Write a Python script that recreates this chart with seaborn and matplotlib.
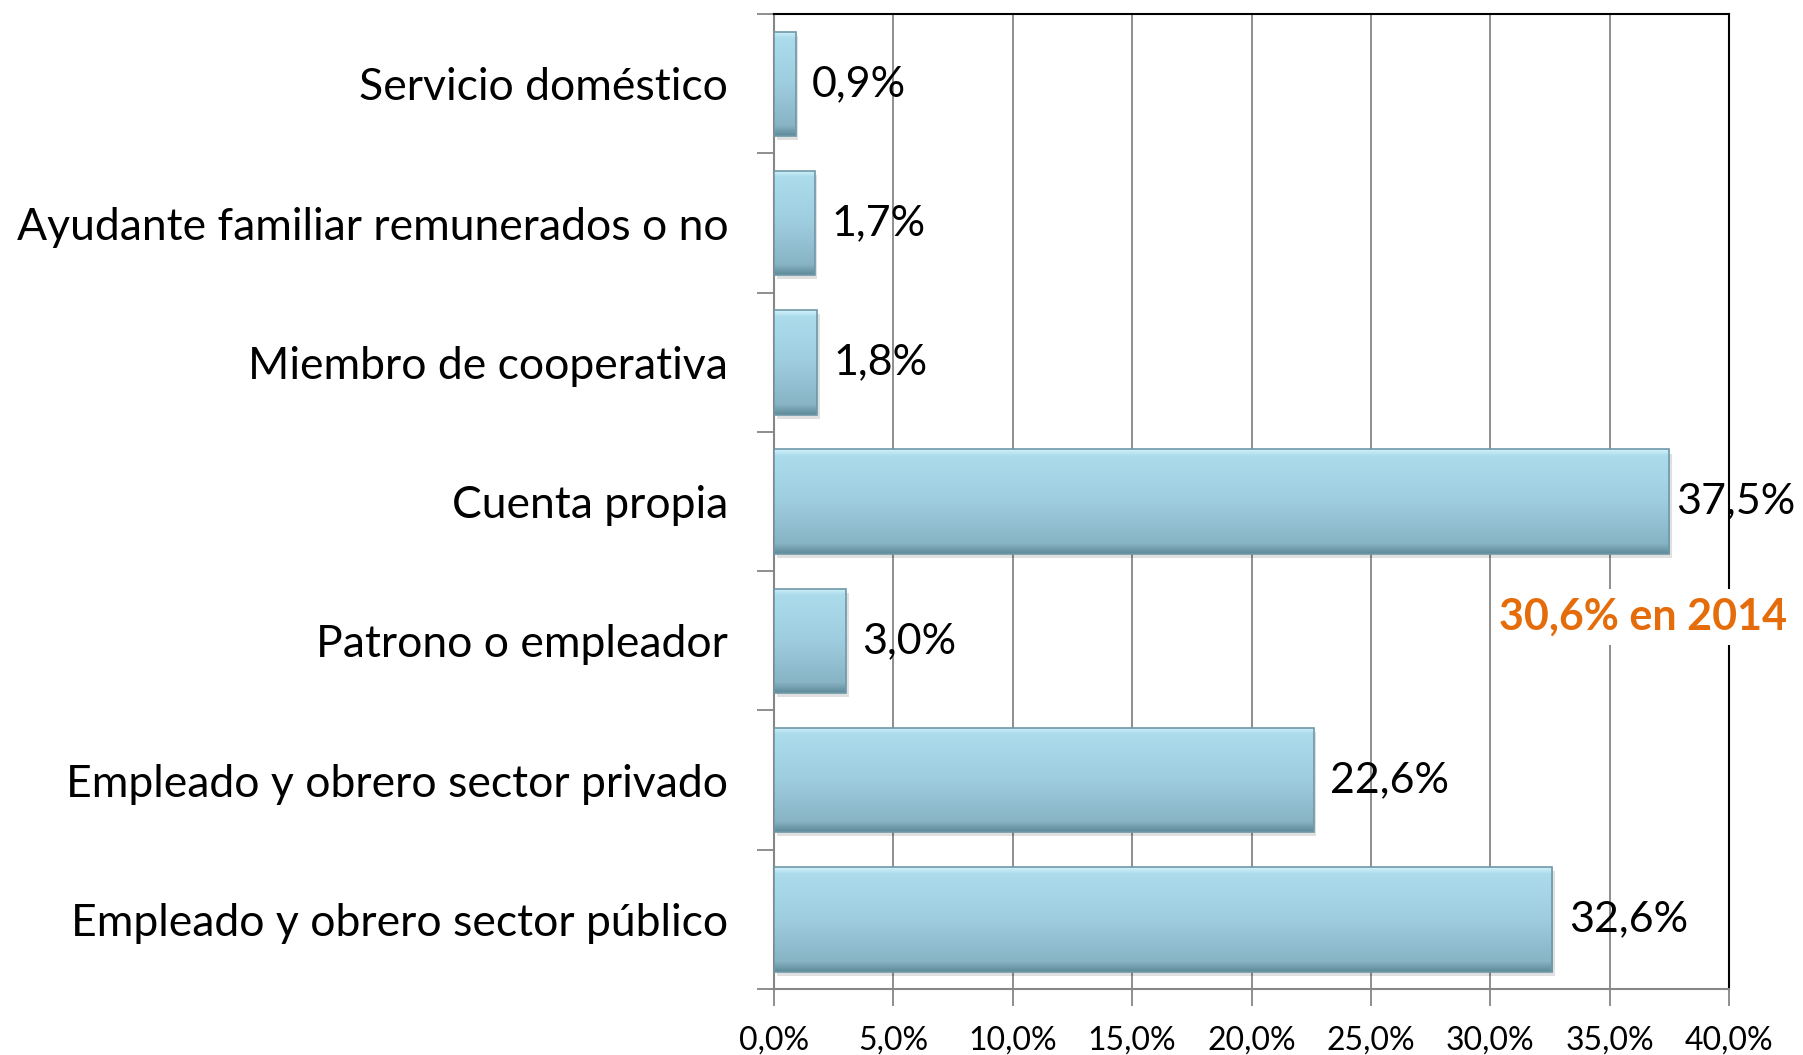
import numpy as np
import pandas as pd
import matplotlib.pyplot as plt
import seaborn as sns
from matplotlib.colors import LinearSegmentedColormap

categories = ["Servicio doméstico", "Ayudante familiar remunerados o no", "Miembro de cooperativa",
              "Cuenta propia", "Patrono o empleador", "Empleado y obrero sector privado",
              "Empleado y obrero sector público"]
values = [0.9, 1.7, 1.8, 37.5, 3.0, 22.6, 32.6]
x_ticks = [0, 5, 10, 15, 20, 25, 30, 35, 40]
note = "30,6% en 2014"

df = pd.DataFrame({"cat": categories, "val": values})

sns.set_style("white")
plt.rcParams['font.family'] = ['Lato', 'DejaVu Sans']

fig = plt.figure(figsize=(18.03, 10.55), dpi=100)
ax = fig.add_axes([0.4293, 0.0626, 0.5297, 0.924])

sns.barplot(data=df, x="val", y="cat", color="#98C8DA", width=0.75, ax=ax, zorder=3)

# gradient fill on each bar, a bit like the bevel look
grad_cmap = LinearSegmentedColormap.from_list(
    "bev", [(0, "#d2f1fa"), (0.06, "#acdcec"), (0.5, "#9ecddf"), (0.9, "#88b4c5"), (1, "#5f8a99")])
grad = np.linspace(0, 1, 200).reshape(-1, 1)
for p in ax.patches:
    x0, y0, w, h = p.get_x(), p.get_y(), p.get_width(), p.get_height()
    # soft shadow under bar
    ax.add_patch(plt.Rectangle((x0 + 0.12, y0 + 0.03), w, h, color="#000000", alpha=0.12,
                               zorder=2, linewidth=0))
    im = ax.imshow(grad, cmap=grad_cmap, aspect="auto", extent=(x0, x0 + w, y0 + h, y0),
                   zorder=4, interpolation="bilinear")
    im.set_clip_path(p)
    p.set_edgecolor("#6f98a8")
    p.set_linewidth(1.2)
    p.set_zorder(5)
    p.set_facecolor("none")

ax.set_xlim(0, 40)
ax.set_ylim(len(categories) - 0.5, -0.5)

# value labels (the long one is pulled in a bit to fit, like in excel)
for i, v in enumerate(values):
    off = 12 if v < 36 else 5
    ax.annotate(f"{v:.1f}%".replace(".", ","), (v, i), xytext=(off, 0), textcoords="offset points",
                va="center", ha="left", fontsize=31, color="black", zorder=6)

ax.text(36.4, 3.83, note, color="#E46C0A", fontsize=31, fontweight="bold", ha="center",
        va="center", zorder=6, clip_on=False,
        bbox=dict(facecolor="white", edgecolor="none", pad=6))

# axes styling
ax.set_xticks(x_ticks)
ax.set_xticklabels([f"{t:.1f}%".replace(".", ",") for t in x_ticks], fontsize=23, color="black")
ax.xaxis.grid(True, color="#868686", linewidth=1.3, zorder=0)
ax.set_axisbelow(True)
ax.tick_params(axis="x", length=12, width=1.3, color="#868686", pad=14, bottom=True)
ax.set_yticks(range(len(categories)))
ax.set_yticklabels(categories, fontsize=32, color="black")
ax.tick_params(axis="y", which="major", length=0, pad=33)
ax.set_yticks(np.arange(-0.5, len(categories), 1), minor=True)
ax.tick_params(axis="y", which="minor", length=12, width=1.3, color="#868686", left=True)
ax.set_xlabel("")
ax.set_ylabel("")

for s in ["left", "bottom"]:
    ax.spines[s].set_color("#868686")
    ax.spines[s].set_linewidth(1.5)
for s in ["top", "right"]:
    ax.spines[s].set_color("black")
    ax.spines[s].set_linewidth(1.5)

fig.savefig("out.png", dpi=100)
